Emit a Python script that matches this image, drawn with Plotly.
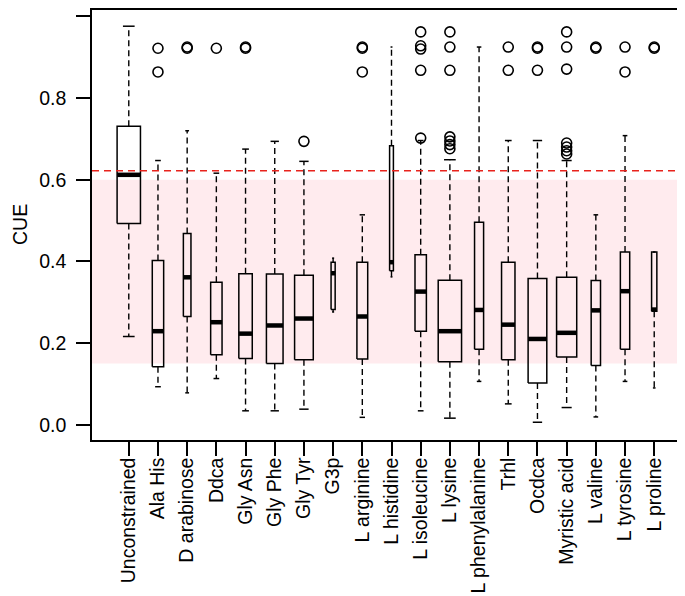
import plotly.graph_objects as go

categories = ["Unconstrained", "Ala His", "D arabinose", "Ddca", "Gly Asn", "Gly Phe",
              "Gly Tyr", "G3p", "L arginine", "L histidine", "L isoleucine", "L lysine",
              "L phenylalanine", "Trhl", "Ocdca", "Myristic acid", "L valine",
              "L tyrosine", "L proline"]

whisker_low = [0.216, 0.093, 0.078, 0.113, 0.034, 0.034, 0.038, 0.276, 0.018, 0.362,
               0.034, 0.016, 0.106, 0.051, 0.006, 0.042, 0.019, 0.106, 0.090]
q1 = [0.493, 0.142, 0.265, 0.171, 0.162, 0.150, 0.159, 0.282, 0.161, 0.377,
      0.229, 0.154, 0.185, 0.159, 0.102, 0.166, 0.145, 0.185, 0.278]
median = [0.612, 0.229, 0.361, 0.251, 0.223, 0.243, 0.260, 0.371, 0.265, 0.398,
          0.326, 0.229, 0.281, 0.245, 0.210, 0.225, 0.280, 0.327, 0.282]
q3 = [0.731, 0.402, 0.468, 0.349, 0.370, 0.369, 0.366, 0.398, 0.398, 0.683,
      0.416, 0.354, 0.496, 0.398, 0.358, 0.361, 0.353, 0.423, 0.423]
whisker_high = [0.976, 0.647, 0.720, 0.616, 0.675, 0.694, 0.645, 0.408, 0.514, 0.925,
                0.696, 0.649, 0.925, 0.696, 0.696, 0.647, 0.514, 0.708, 0.423]

outliers = [
    [],
    [0.922, 0.864],
    [0.922, 0.925],
    [0.922],
    [0.922, 0.925],
    [],
    [0.694],
    [],
    [0.922, 0.925, 0.864],
    [],
    [0.962, 0.928, 0.920, 0.868, 0.702],
    [0.962, 0.925, 0.868, 0.705, 0.695, 0.686, 0.676],
    [],
    [0.925, 0.868],
    [0.925, 0.922, 0.868],
    [0.962, 0.925, 0.871, 0.690, 0.680, 0.671, 0.663],
    [0.925, 0.922],
    [0.925, 0.864],
    [0.925, 0.922],
]

y_ticks = [0.0, 0.2, 0.4, 0.6, 0.8, 1.0]
y_tick_labels = ["0.0", "0.2", "0.4", "0.6", "0.8", "1.0"]

band_low, band_high = 0.15, 0.60
threshold = 0.622

# style: relative box widths (varwidth), in category units
box_widths = [0.80, 0.39, 0.26, 0.39, 0.46, 0.57, 0.64, 0.14, 0.37, 0.13,
              0.39, 0.80, 0.31, 0.46, 0.64, 0.69, 0.32, 0.32, 0.18]
staple_frac = 0.5

FONT = "Liberation Sans, Arial, Helvetica, sans-serif"

pos = list(range(1, len(categories) + 1))

rx, ry = [], []
mx, my = [], []
wx, wy = [], []
sx, sy = [], []
ox, oy = [], []
for i, p in enumerate(pos):
    h = box_widths[i] / 2
    rx += [p - h, p + h, p + h, p - h, p - h, None]
    ry += [q1[i], q1[i], q3[i], q3[i], q1[i], None]
    mx += [p - h, p + h, None]
    my += [median[i], median[i], None]
    wx += [p, p, None, p, p, None]
    wy += [q3[i], whisker_high[i], None, q1[i], whisker_low[i], None]
    s = h * staple_frac
    sx += [p - s, p + s, None, p - s, p + s, None]
    sy += [whisker_high[i], whisker_high[i], None, whisker_low[i], whisker_low[i], None]
    for v in outliers[i]:
        ox.append(p)
        oy.append(v)

fig = go.Figure()
fig.add_trace(go.Scatter(x=wx, y=wy, mode="lines", line=dict(color="black", width=1.4, dash="6px,4px"),
                         hoverinfo="skip", showlegend=False))
fig.add_trace(go.Scatter(x=sx, y=sy, mode="lines", line=dict(color="black", width=1.5),
                         hoverinfo="skip", showlegend=False))
fig.add_trace(go.Scatter(x=rx, y=ry, mode="lines", line=dict(color="black", width=1.5),
                         hoverinfo="skip", showlegend=False))
fig.add_trace(go.Scatter(x=mx, y=my, mode="lines", line=dict(color="black", width=4.5),
                         hoverinfo="skip", showlegend=False))
fig.add_trace(go.Scatter(x=ox, y=oy, mode="markers",
                         marker=dict(symbol="circle-open", size=10, color="black", line=dict(width=1.6)),
                         hoverinfo="skip", showlegend=False))

fig.add_shape(type="rect", xref="paper", x0=0, x1=1, yref="y", y0=band_low, y1=band_high,
              fillcolor="rgba(255,228,232,0.75)", line=dict(width=0), layer="below")
fig.add_shape(type="line", xref="paper", x0=0, x1=1, yref="y", y0=threshold, y1=threshold,
              line=dict(color="#e8231c", width=1.5, dash="7px,5px"), layer="above")

fig.add_annotation(text="CUE", textangle=-90, xref="paper", yref="paper",
                   x=-84 / 599, y=0.5, xanchor="left", yanchor="middle",
                   showarrow=False, borderpad=0,
                   font=dict(family=FONT, size=19.5, color="black"))

fig.update_layout(
    width=685, height=596,
    margin=dict(l=84, r=2, t=2, b=164),
    plot_bgcolor="white", paper_bgcolor="white",
    font=dict(family=FONT, size=19.5, color="black"),
    xaxis=dict(range=[-0.26, 20.26], tickmode="array", tickvals=pos, ticktext=categories,
               tickangle=-90, ticks="outside", ticklen=14, tickwidth=1.5, tickcolor="black",
               showline=True, mirror=True, linecolor="black", linewidth=1.5,
               showgrid=False, zeroline=False, automargin=False, ticklabelstandoff=-6,
               tickfont=dict(family=FONT, size=19.5, color="black")),
    yaxis=dict(range=[-0.0375, 1.0157], tickmode="array", tickvals=y_ticks, ticktext=y_tick_labels,
               ticks="outside", ticklen=14, tickwidth=1.5, tickcolor="black",
               showline=True, mirror=True, linecolor="black", linewidth=1.5,
               showgrid=False, zeroline=False, automargin=False, ticklabelstandoff=6,
               tickfont=dict(family=FONT, size=19.5, color="black")),
)

fig.write_html("out.html")
